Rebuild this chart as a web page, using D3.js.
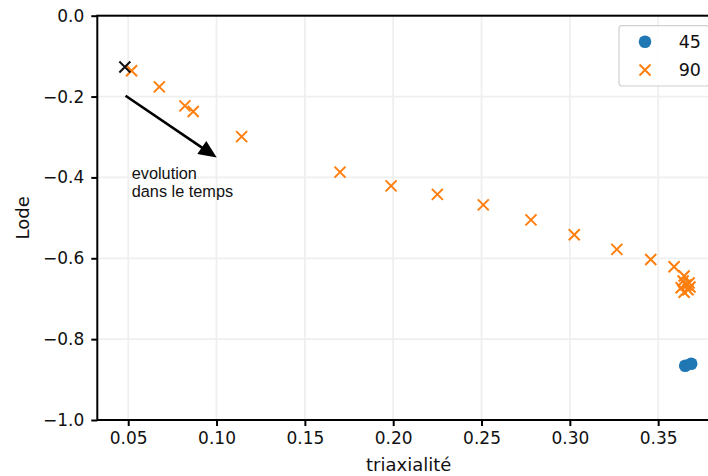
<!DOCTYPE html>
<html>
<head>
<meta charset="utf-8">
<script src="https://cdn.jsdelivr.net/npm/d3@7"></script>
<style>
html,body{margin:0;padding:0;background:#fff;overflow:hidden;}
svg{display:block;}
</style>
</head>
<body>
<svg id="chart" width="708" height="476"></svg>
<script>
// ---- data ----
const xTicks = [0.05, 0.10, 0.15, 0.20, 0.25, 0.30, 0.35];
const yTicks = [0.0, -0.2, -0.4, -0.6, -0.8, -1.0];
const series45X = [0.3653, 0.3687];
const series45Y = [-0.866, -0.861];
const series90X = [0.0519, 0.0676, 0.0821, 0.0868, 0.1142, 0.1699, 0.1988, 0.2250, 0.2510, 0.2780, 0.3025, 0.3266, 0.3458, 0.3590, 0.3647,
                   0.3641, 0.3658, 0.3675, 0.3630, 0.3669, 0.3647, 0.3680];
const series90Y = [-0.136, -0.176, -0.223, -0.237, -0.299, -0.387, -0.421, -0.442, -0.468, -0.505, -0.542, -0.578, -0.603, -0.621, -0.644,
                   -0.656, -0.666, -0.661, -0.673, -0.678, -0.684, -0.671];
const startX = [0.0481];
const startY = [-0.127];
const arrowFrom = [0.0485, -0.198];
const arrowTo = [0.1001, -0.351];
const annotLines = ["evolution", "dans le temps"];
const annotPos = [0.0520, -0.404];
const legendLabels = ["45", "90"];
const xLabel = "triaxialité";
const yLabel = "Lode";

// ---- layout ----
(function () {
const svg = d3.select("#chart");
const pL = 97.3, pR = 717, pT = 15.7, pB = 420;
const x = d3.scaleLinear().domain([0.0325, 0.3833]).range([pL, pR]);
const y = d3.scaleLinear().domain([-1.0, 0.0]).range([pB, pT]);
const blue = "#1f77b4", orange = "#ff7f0e";

// grid
const grid = svg.append("g");
grid.selectAll("line.gx").data(xTicks).join("line")
  .attr("x1", d => x(d)).attr("x2", d => x(d)).attr("y1", pT).attr("y2", pB)
  .attr("stroke", "#efefef").attr("stroke-width", 1.8);
grid.selectAll("line.gy").data(yTicks).join("line")
  .attr("y1", d => y(d)).attr("y2", d => y(d)).attr("x1", pL).attr("x2", pR)
  .attr("stroke", "#efefef").attr("stroke-width", 1.8);

// axes
const fmtX = d3.format(".2f"), fmtY = d3.format(".1f");
const gx = svg.append("g").attr("transform", `translate(0,${pB})`)
  .call(d3.axisBottom(x).tickValues(xTicks).tickFormat(fmtX).tickSize(6).tickPadding(6));
const gy = svg.append("g").attr("transform", `translate(${pL},0)`)
  .call(d3.axisLeft(y).tickValues(yTicks).tickFormat(fmtY).tickSize(6).tickPadding(6));
[gx, gy].forEach(g => {
  g.select(".domain").remove();
  g.selectAll(".tick line").attr("stroke", "#000").attr("stroke-width", 2);
  g.selectAll(".tick text").attr("font-family", "DejaVu Sans").attr("font-size", 17).attr("fill", "#111");
});
gy.selectAll(".tick text").attr("dx", -1);

// spines
svg.append("rect").attr("x", pL).attr("y", pT).attr("width", pR - pL).attr("height", pB - pT)
  .attr("fill", "none").attr("stroke", "#000").attr("stroke-width", 2);

// axis labels
svg.append("text").attr("x", (pL + 706) / 2 + 7).attr("y", 471)
  .attr("text-anchor", "middle").attr("font-family", "DejaVu Sans").attr("font-size", 18).attr("fill", "#111")
  .text(xLabel);
svg.append("text").attr("transform", `translate(29,${(pT + pB) / 2}) rotate(-90)`)
  .attr("text-anchor", "middle").attr("font-family", "DejaVu Sans").attr("font-size", 18).attr("fill", "#111")
  .text(yLabel);

// markers
const xs = 5.5;
function cross(g, cx, cy, color) {
  g.append("path")
    .attr("d", `M${cx - xs},${cy - xs}L${cx + xs},${cy + xs}M${cx - xs},${cy + xs}L${cx + xs},${cy - xs}`)
    .attr("stroke", color).attr("stroke-width", 2).attr("fill", "none");
}
const pts = svg.append("g");
series45X.forEach((v, i) => {
  pts.append("circle").attr("cx", x(v)).attr("cy", y(series45Y[i])).attr("r", 6.3).attr("fill", blue);
});
series90X.forEach((v, i) => cross(pts, x(v), y(series90Y[i]), orange));
startX.forEach((v, i) => cross(pts, x(v), y(startY[i]), "#111"));

// arrow
const ax0 = x(arrowFrom[0]), ay0 = y(arrowFrom[1]);
const ax1 = x(arrowTo[0]), ay1 = y(arrowTo[1]);
const dx = ax1 - ax0, dy = ay1 - ay0, len = Math.hypot(dx, dy);
const ux = dx / len, uy = dy / len, headL = 18, headW = 8;
const bx = ax1 - ux * headL, by = ay1 - uy * headL;
svg.append("line").attr("x1", ax0).attr("y1", ay0).attr("x2", bx + ux * 2).attr("y2", by + uy * 2)
  .attr("stroke", "#000").attr("stroke-width", 2.6);
svg.append("path")
  .attr("d", `M${ax1},${ay1}L${bx - uy * headW},${by + ux * headW}L${bx + uy * headW},${by - ux * headW}Z`)
  .attr("fill", "#000");

// annotation
const at = svg.append("text").attr("font-family", "Liberation Sans, Arial").attr("font-size", 16.3).attr("fill", "#111");
annotLines.forEach((t, i) => {
  at.append("tspan").attr("x", x(annotPos[0])).attr("y", y(annotPos[1]) + i * 18).text(t);
});

// legend
const lg = svg.append("g");
lg.append("rect").attr("x", 619).attr("y", 25.7).attr("width", 90).attr("height", 60.3).attr("rx", 3)
  .attr("fill", "#fff").attr("fill-opacity", 0.85).attr("stroke", "#d0d0d0").attr("stroke-width", 1.2);
lg.append("circle").attr("cx", 645).attr("cy", 41.7).attr("r", 6.3).attr("fill", blue);
cross(lg, 645, 70, orange);
legendLabels.forEach((t, i) => {
  lg.append("text").attr("x", 701).attr("y", 48 + i * 28.3).attr("text-anchor", "end")
    .attr("font-family", "DejaVu Sans").attr("font-size", 17.5).attr("fill", "#111").text(t);
});
})();
</script>
</body>
</html>
